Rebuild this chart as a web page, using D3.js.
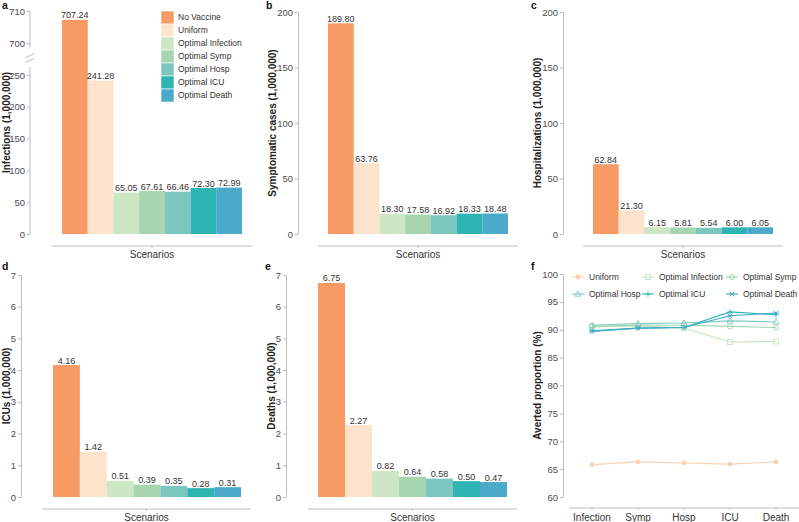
<!DOCTYPE html>
<html><head><meta charset="utf-8">
<script src="https://cdn.jsdelivr.net/npm/d3@7"></script>
<style>
body{margin:0;background:#fff;}
text{font-family:"Liberation Sans",Arial,sans-serif;}
</style></head>
<body><svg id="c" width="799" height="522"></svg>
<script>
const scenarios = ["No Vaccine","Uniform","Optimal Infection","Optimal Symp","Optimal Hosp","Optimal ICU","Optimal Death"];
const colors = ["#F79A63","#FCE3CC","#CDE6C4","#A6D5AF","#7BC6BE","#2DB4B3","#4BA9C9"];
const infections = [707.24,241.28,65.05,67.61,66.46,72.30,72.99];
const symptomatic = [189.80,63.76,18.30,17.58,16.92,18.33,18.48];
const hospitalizations = [62.84,21.30,6.15,5.81,5.54,6.00,6.05];
const icus = [4.16,1.42,0.51,0.39,0.35,0.28,0.31];
const deaths = [6.75,2.27,0.82,0.64,0.58,0.50,0.47];
const infectionTicks = [0,50,100,150,200,250,700,710];
const hundredTicks = [0,50,100,150,200];
const sevenTicks = [0,1,2,3,4,5,6,7];
const outcomes = ["Infection","Symp","Hosp","ICU","Death"];
const strategies = ["Uniform","Optimal Infection","Optimal Symp","Optimal Hosp","Optimal ICU","Optimal Death"];
const avUniform = [65.8,66.3,66.1,65.9,66.3];
const avInfection = [90.5,90.7,90.3,87.8,87.9];
const avSymp = [90.6,90.8,90.8,90.6,90.4];
const avHosp = [90.8,91.1,91.2,91.6,91.4];
const avICU = [89.8,90.3,90.4,93.2,92.7];
const avDeath = [89.7,90.3,90.4,92.5,93.0];
const avertedTicks = [60,65,70,75,80,85,90,95,100];

const svg = d3.select("#c");
const AX = "#bdbdbd", TXT = "#4d4d4d";

function styleAxis(g){
  g.selectAll(".domain").attr("stroke",AX);
  g.selectAll(".tick line").attr("stroke",AX);
  g.selectAll(".tick text").attr("fill",TXT).style("font-size","9.5px").style("font-family",'"Liberation Sans",Arial,sans-serif');
}

function barPanel(o){
  const y = d3.scaleLinear().domain(o.domain).range(o.range);
  const x = d3.scaleBand().domain(scenarios).range([o.b0,o.b1]).padding(0);
  const g = svg.append("g");
  const ax = g.append("g").attr("transform",`translate(${o.ax},0)`)
    .call(d3.axisLeft(y).tickValues(o.ticks).tickFormat(d3.format("d")).tickSize(3).tickSizeOuter(0).tickPadding(2));
  styleAxis(ax);
  if(o.brk){
    ax.select(".domain").remove();
    const segs = [[o.range[o.range.length-1], y(700)+4],[y(250)-8, o.range[0]]];
    segs.forEach(s=>g.append("line").attr("x1",o.ax).attr("x2",o.ax).attr("y1",s[0]).attr("y2",s[1]).attr("stroke",AX));
    const by = (y(250)+y(700))/2 - 1;
    [-2.5,2.5].forEach(dd=>g.append("line").attr("x1",o.ax-4).attr("x2",o.ax+4).attr("y1",by+dd+2).attr("y2",by+dd-2).attr("stroke",AX));
  }
  const vals = o.values;
  g.selectAll("rect.bar").data(scenarios).join("rect")
    .attr("x",d=>x(d)).attr("width",x.bandwidth())
    .attr("y",(d,i)=>y(vals[i])).attr("height",(d,i)=>y(0)-y(vals[i]))
    .attr("fill",(d,i)=>colors[i]);
  g.selectAll("text.val").data(scenarios).join("text")
    .attr("x",d=>x(d)+x.bandwidth()/2).attr("y",(d,i)=>y(vals[i])-1.5)
    .attr("text-anchor","middle").style("font-size","9px").attr("fill","#333")
    .text((d,i)=>d3.format(".2f")(vals[i]));
  const xa = o.xline;
  g.append("line").attr("x1",xa[0]).attr("x2",xa[1]).attr("y1",xa[2]).attr("y2",xa[2]).attr("stroke",AX);
  const mid=(xa[0]+xa[1])/2;
  g.append("line").attr("x1",mid).attr("x2",mid).attr("y1",xa[2]).attr("y2",xa[2]+2).attr("stroke",AX);
  g.append("text").attr("x",mid).attr("y",xa[2]+12).attr("text-anchor","middle").style("font-size","10px").attr("fill","#333").text("Scenarios");
  const yc=(o.range[0]+o.range[o.range.length-1])/2;
  g.append("text").attr("transform",`translate(${o.tx},${yc}) rotate(-90)`).attr("dy","0.35em")
    .attr("text-anchor","middle").style("font-size","10px").style("font-weight","bold").attr("fill","#222").text(o.title);
  g.append("text").attr("x",o.lx).attr("y",o.ly).style("font-size","10.5px").style("font-weight","bold").attr("fill","#111").text(o.letter);
  return g;
}

barPanel({domain:[0,250,700,710],range:[234,75,43,11],ticks:infectionTicks,brk:true,ax:30,b0:62,b1:242,values:infections,
  xline:[52,252,246],tx:6,title:"Infections (1,000,000)",letter:"a",lx:2,ly:9});
barPanel({domain:[0,200],range:[234,12],ticks:hundredTicks,ax:298,b0:328,b1:508,values:symptomatic,
  xline:[318,518,246],tx:272,title:"Symptomatic cases (1,000,000)",letter:"b",lx:266,ly:9});
barPanel({domain:[0,200],range:[234,12],ticks:hundredTicks,ax:563,b0:593,b1:773,values:hospitalizations,
  xline:[583,783,246],tx:537,title:"Hospitalizations (1,000,000)",letter:"c",lx:531,ly:9});
barPanel({domain:[0,7],range:[497,275],ticks:sevenTicks,ax:21,b0:53,b1:241,values:icus,
  xline:[42,251,509],tx:6,title:"ICUs (1,000,000)",letter:"d",lx:2,ly:270});
barPanel({domain:[0,7],range:[497,275],ticks:sevenTicks,ax:286,b0:318,b1:507,values:deaths,
  xline:[308,517,509],tx:271,title:"Deaths (1,000,000)",letter:"e",lx:265,ly:270});

const lg = svg.append("g");
scenarios.forEach((s,i)=>{
  lg.append("rect").attr("x",161).attr("y",11+i*13).attr("width",13).attr("height",13).attr("fill",colors[i])
    .attr("stroke","#fff").attr("stroke-width",0.6);
  lg.append("text").attr("x",178).attr("y",11+i*13+6.5).attr("dy","0.35em").style("font-size","8.5px").attr("fill","#333").text(s);
});

const fSeries = [avUniform,avInfection,avSymp,avHosp,avICU,avDeath];
const fColors = ["#FAD2B2","#C9E5BE","#A3D6AE","#7FCBC3","#2BB5B3","#46A6C8"];
const fShapes = ["dot","square","circle","triangle","plus","star"];
const yf = d3.scaleLinear().domain([60,100]).range([497,274]);
const xf = d3.scalePoint().domain(outcomes).range([592,776]);
const gf = svg.append("g");
const fax = gf.append("g").attr("transform","translate(563,0)")
  .call(d3.axisLeft(yf).tickValues(avertedTicks).tickFormat(d3.format("d")).tickSize(3).tickSizeOuter(0).tickPadding(2));
styleAxis(fax);
gf.append("line").attr("x1",569).attr("x2",799).attr("y1",508).attr("y2",508).attr("stroke",AX);
outcomes.forEach(o=>{
  gf.append("line").attr("x1",xf(o)).attr("x2",xf(o)).attr("y1",508).attr("y2",510).attr("stroke",AX);
  gf.append("text").attr("x",xf(o)).attr("y",521).attr("text-anchor","middle").style("font-size","10px").attr("fill","#333").text(o);
});
function marker(g,shape,cx,cy,col){
  const s=2.8;
  if(shape==="dot") g.append("circle").attr("cx",cx).attr("cy",cy).attr("r",2.4).attr("fill",col);
  else if(shape==="circle") g.append("circle").attr("cx",cx).attr("cy",cy).attr("r",2.6).attr("fill","none").attr("stroke",col).attr("stroke-width",0.9);
  else if(shape==="square") g.append("rect").attr("x",cx-2.5).attr("y",cy-2.5).attr("width",5).attr("height",5).attr("fill","none").attr("stroke",col).attr("stroke-width",0.9);
  else if(shape==="triangle") g.append("path").attr("d",`M${cx},${cy-3.2}L${cx+3},${cy+2.2}L${cx-3},${cy+2.2}Z`).attr("fill","none").attr("stroke",col).attr("stroke-width",0.9);
  else if(shape==="plus") g.append("path").attr("d",`M${cx-s},${cy}H${cx+s}M${cx},${cy-s}V${cy+s}`).attr("stroke",col).attr("stroke-width",0.9);
  else if(shape==="star") g.append("path").attr("d",`M${cx-2.4},${cy-2.4}L${cx+2.4},${cy+2.4}M${cx-2.4},${cy+2.4}L${cx+2.4},${cy-2.4}M${cx-s},${cy}H${cx+s}`).attr("stroke",col).attr("stroke-width",0.9);
}
const line = d3.line().x((d,i)=>xf(outcomes[i])).y(d=>yf(d));
fSeries.forEach((ser,k)=>{
  gf.append("path").datum(ser).attr("d",line).attr("fill","none").attr("stroke",fColors[k]).attr("stroke-width",1.1);
  ser.forEach((v,i)=>marker(gf,fShapes[k],xf(outcomes[i]),yf(v),fColors[k]));
});
const lmx=[578,648,732], lty=[277,294];
strategies.forEach((s,k)=>{
  const cx=lmx[k%3], cy=lty[Math.floor(k/3)];
  gf.append("line").attr("x1",cx-6).attr("x2",cx+6).attr("y1",cy).attr("y2",cy).attr("stroke",fColors[k]).attr("stroke-width",1.1);
  marker(gf,fShapes[k],cx,cy,fColors[k]);
  gf.append("text").attr("x",cx+11).attr("y",cy).attr("dy","0.35em").style("font-size","8.5px").attr("fill","#333").text(s);
});
gf.append("text").attr("transform",`translate(537,${(497+274)/2}) rotate(-90)`).attr("dy","0.35em")
  .attr("text-anchor","middle").style("font-size","10px").style("font-weight","bold").attr("fill","#222").text("Averted proportion (%)");
gf.append("text").attr("x",531).attr("y",270).style("font-size","10.5px").style("font-weight","bold").attr("fill","#111").text("f");
</script></body></html>
